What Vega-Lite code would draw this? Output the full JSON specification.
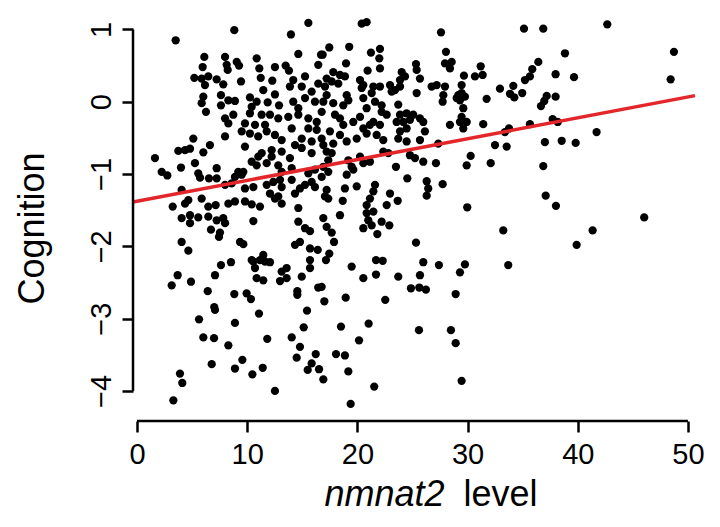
{
  "$schema": "https://vega.github.io/schema/vega-lite/v6.json",
  "width": 562,
  "height": 414,
  "autosize": "none",
  "padding": {"left": 133, "top": 7, "right": 25, "bottom": 106},
  "background": "white",
  "datasets": {
    "points": [
      {"nmnat2": 3.51, "cognition": 0.85}, {"nmnat2": 8.83, "cognition": 0.99}, {"nmnat2": 13.97, "cognition": 0.93}, {"nmnat2": 15.55, "cognition": 1.09},
      {"nmnat2": 6.11, "cognition": 0.62}, {"nmnat2": 7.99, "cognition": 0.62}, {"nmnat2": 10.86, "cognition": 0.60}, {"nmnat2": 14.64, "cognition": 0.66},
      {"nmnat2": 16.70, "cognition": 0.65}, {"nmnat2": 5.96, "cognition": 0.48}, {"nmnat2": 8.14, "cognition": 0.51}, {"nmnat2": 8.23, "cognition": 0.44},
      {"nmnat2": 9.05, "cognition": 0.55}, {"nmnat2": 9.26, "cognition": 0.50}, {"nmnat2": 11.10, "cognition": 0.46}, {"nmnat2": 12.52, "cognition": 0.48},
      {"nmnat2": 13.49, "cognition": 0.50}, {"nmnat2": 13.79, "cognition": 0.43}, {"nmnat2": 16.45, "cognition": 0.51}, {"nmnat2": 5.20, "cognition": 0.33},
      {"nmnat2": 5.87, "cognition": 0.32}, {"nmnat2": 6.47, "cognition": 0.35}, {"nmnat2": 7.23, "cognition": 0.31}, {"nmnat2": 7.83, "cognition": 0.24},
      {"nmnat2": 6.17, "cognition": 0.23}, {"nmnat2": 9.44, "cognition": 0.28}, {"nmnat2": 11.23, "cognition": 0.33}, {"nmnat2": 12.28, "cognition": 0.29},
      {"nmnat2": 14.18, "cognition": 0.30}, {"nmnat2": 15.25, "cognition": 0.35}, {"nmnat2": 13.88, "cognition": 0.21}, {"nmnat2": 14.95, "cognition": 0.21},
      {"nmnat2": 15.85, "cognition": 0.14}, {"nmnat2": 16.45, "cognition": 0.25}, {"nmnat2": 11.46, "cognition": 0.16}, {"nmnat2": 12.52, "cognition": 0.10},
      {"nmnat2": 6.02, "cognition": 0.07}, {"nmnat2": 5.87, "cognition": -0.02}, {"nmnat2": 7.62, "cognition": 0.09}, {"nmnat2": 8.29, "cognition": 0.02},
      {"nmnat2": 8.89, "cognition": 0.01}, {"nmnat2": 7.62, "cognition": -0.05}, {"nmnat2": 10.25, "cognition": 0.06}, {"nmnat2": 10.86, "cognition": 0.00},
      {"nmnat2": 10.41, "cognition": -0.07}, {"nmnat2": 11.86, "cognition": -0.01}, {"nmnat2": 12.89, "cognition": -0.05}, {"nmnat2": 14.18, "cognition": 0.00},
      {"nmnat2": 14.64, "cognition": -0.09}, {"nmnat2": 15.25, "cognition": 0.05}, {"nmnat2": 6.26, "cognition": -0.14}, {"nmnat2": 8.74, "cognition": -0.18},
      {"nmnat2": 7.99, "cognition": -0.23}, {"nmnat2": 8.29, "cognition": -0.30}, {"nmnat2": 10.25, "cognition": -0.16}, {"nmnat2": 11.31, "cognition": -0.18},
      {"nmnat2": 12.07, "cognition": -0.18}, {"nmnat2": 12.82, "cognition": -0.23}, {"nmnat2": 13.73, "cognition": -0.21}, {"nmnat2": 14.64, "cognition": -0.18},
      {"nmnat2": 15.55, "cognition": -0.23}, {"nmnat2": 9.80, "cognition": -0.30}, {"nmnat2": 10.71, "cognition": -0.32}, {"nmnat2": 11.62, "cognition": -0.32},
      {"nmnat2": 9.50, "cognition": -0.41}, {"nmnat2": 10.25, "cognition": -0.44}, {"nmnat2": 5.11, "cognition": -0.51}, {"nmnat2": 7.99, "cognition": -0.48},
      {"nmnat2": 12.52, "cognition": -0.46}, {"nmnat2": 13.13, "cognition": -0.53}, {"nmnat2": 14.95, "cognition": -0.51}, {"nmnat2": 16.31, "cognition": -0.39},
      {"nmnat2": 6.62, "cognition": -0.60}, {"nmnat2": 16.15, "cognition": 0.00}, {"nmnat2": 16.76, "cognition": -0.14}, {"nmnat2": 16.31, "cognition": -0.28},
      {"nmnat2": 15.55, "cognition": -0.37}, {"nmnat2": 14.04, "cognition": -0.37}, {"nmnat2": 14.34, "cognition": -0.60}, {"nmnat2": 15.85, "cognition": -0.55},
      {"nmnat2": 16.76, "cognition": -0.51}, {"nmnat2": 11.77, "cognition": -0.41}, {"nmnat2": 11.00, "cognition": -0.48},

      {"nmnat2": 20.39, "cognition": 1.08}, {"nmnat2": 20.84, "cognition": 1.10}, {"nmnat2": 27.59, "cognition": 0.96}, {"nmnat2": 17.45, "cognition": 0.75},
      {"nmnat2": 19.26, "cognition": 0.76}, {"nmnat2": 16.85, "cognition": 0.65}, {"nmnat2": 21.23, "cognition": 0.68}, {"nmnat2": 22.05, "cognition": 0.73},
      {"nmnat2": 21.99, "cognition": 0.60}, {"nmnat2": 28.04, "cognition": 0.69}, {"nmnat2": 18.97, "cognition": 0.53}, {"nmnat2": 20.93, "cognition": 0.43},
      {"nmnat2": 22.05, "cognition": 0.46}, {"nmnat2": 25.32, "cognition": 0.52}, {"nmnat2": 25.38, "cognition": 0.44}, {"nmnat2": 25.68, "cognition": 0.32},
      {"nmnat2": 27.95, "cognition": 0.53}, {"nmnat2": 28.40, "cognition": 0.46}, {"nmnat2": 28.56, "cognition": 0.55}, {"nmnat2": 31.19, "cognition": 0.49},
      {"nmnat2": 31.37, "cognition": 0.37}, {"nmnat2": 30.67, "cognition": 0.35}, {"nmnat2": 29.67, "cognition": 0.36}, {"nmnat2": 17.81, "cognition": 0.41},
      {"nmnat2": 18.42, "cognition": 0.37}, {"nmnat2": 18.87, "cognition": 0.35}, {"nmnat2": 17.21, "cognition": 0.32}, {"nmnat2": 17.67, "cognition": 0.28},
      {"nmnat2": 18.27, "cognition": 0.25}, {"nmnat2": 17.06, "cognition": 0.21}, {"nmnat2": 20.24, "cognition": 0.30}, {"nmnat2": 20.54, "cognition": 0.23},
      {"nmnat2": 20.39, "cognition": 0.19}, {"nmnat2": 24.02, "cognition": 0.41}, {"nmnat2": 24.32, "cognition": 0.35}, {"nmnat2": 23.87, "cognition": 0.30},
      {"nmnat2": 21.45, "cognition": 0.21}, {"nmnat2": 22.05, "cognition": 0.21}, {"nmnat2": 21.30, "cognition": 0.12}, {"nmnat2": 22.96, "cognition": 0.23},
      {"nmnat2": 23.41, "cognition": 0.16}, {"nmnat2": 23.87, "cognition": 0.21}, {"nmnat2": 23.11, "cognition": 0.14}, {"nmnat2": 25.38, "cognition": 0.12},
      {"nmnat2": 26.74, "cognition": 0.21}, {"nmnat2": 27.20, "cognition": 0.23}, {"nmnat2": 27.95, "cognition": 0.21}, {"nmnat2": 27.80, "cognition": 0.09},
      {"nmnat2": 27.74, "cognition": 0.00}, {"nmnat2": 29.46, "cognition": 0.23}, {"nmnat2": 29.16, "cognition": 0.09}, {"nmnat2": 29.46, "cognition": 0.12},
      {"nmnat2": 29.76, "cognition": 0.07}, {"nmnat2": 29.31, "cognition": 0.02}, {"nmnat2": 29.01, "cognition": 0.05}, {"nmnat2": 31.73, "cognition": 0.04},
      {"nmnat2": 32.94, "cognition": 0.18}, {"nmnat2": 19.03, "cognition": 0.09}, {"nmnat2": 19.18, "cognition": 0.02}, {"nmnat2": 17.21, "cognition": 0.09},
      {"nmnat2": 16.91, "cognition": 0.00}, {"nmnat2": 17.81, "cognition": -0.02}, {"nmnat2": 18.72, "cognition": -0.05}, {"nmnat2": 20.54, "cognition": 0.05},
      {"nmnat2": 21.60, "cognition": 0.00}, {"nmnat2": 22.20, "cognition": -0.05}, {"nmnat2": 20.84, "cognition": -0.09}, {"nmnat2": 23.71, "cognition": -0.04},
      {"nmnat2": 24.47, "cognition": -0.16}, {"nmnat2": 25.07, "cognition": -0.18}, {"nmnat2": 25.68, "cognition": -0.23}, {"nmnat2": 23.87, "cognition": -0.18},
      {"nmnat2": 29.61, "cognition": -0.09}, {"nmnat2": 29.46, "cognition": -0.21}, {"nmnat2": 29.31, "cognition": -0.28}, {"nmnat2": 29.61, "cognition": -0.37},
      {"nmnat2": 29.92, "cognition": -0.28}, {"nmnat2": 28.40, "cognition": -0.32}, {"nmnat2": 31.42, "cognition": -0.31}, {"nmnat2": 32.49, "cognition": -0.60},
      {"nmnat2": 17.97, "cognition": -0.18}, {"nmnat2": 18.42, "cognition": -0.23}, {"nmnat2": 18.72, "cognition": -0.32}, {"nmnat2": 19.63, "cognition": -0.28},
      {"nmnat2": 20.24, "cognition": -0.21}, {"nmnat2": 20.54, "cognition": -0.37}, {"nmnat2": 21.14, "cognition": -0.32}, {"nmnat2": 21.45, "cognition": -0.28},
      {"nmnat2": 22.20, "cognition": -0.14}, {"nmnat2": 22.66, "cognition": -0.18}, {"nmnat2": 22.05, "cognition": -0.32}, {"nmnat2": 23.56, "cognition": -0.28},
      {"nmnat2": 24.17, "cognition": -0.28}, {"nmnat2": 24.77, "cognition": -0.25}, {"nmnat2": 24.47, "cognition": -0.37}, {"nmnat2": 23.87, "cognition": -0.41},
      {"nmnat2": 25.98, "cognition": -0.28}, {"nmnat2": 26.13, "cognition": -0.41}, {"nmnat2": 17.51, "cognition": -0.41}, {"nmnat2": 18.42, "cognition": -0.46},
      {"nmnat2": 19.03, "cognition": -0.55}, {"nmnat2": 19.94, "cognition": -0.51}, {"nmnat2": 20.84, "cognition": -0.44}, {"nmnat2": 21.75, "cognition": -0.46},
      {"nmnat2": 22.35, "cognition": -0.53}, {"nmnat2": 23.71, "cognition": -0.51}, {"nmnat2": 24.47, "cognition": -0.55}, {"nmnat2": 25.68, "cognition": -0.53},
      {"nmnat2": 16.91, "cognition": -0.60}, {"nmnat2": 17.81, "cognition": -0.58}, {"nmnat2": 27.34, "cognition": -0.58},

      {"nmnat2": 35.12, "cognition": 1.01}, {"nmnat2": 36.87, "cognition": 1.01}, {"nmnat2": 42.68, "cognition": 1.07}, {"nmnat2": 48.73, "cognition": 0.69},
      {"nmnat2": 48.43, "cognition": 0.31}, {"nmnat2": 38.84, "cognition": 0.67}, {"nmnat2": 36.42, "cognition": 0.55}, {"nmnat2": 35.87, "cognition": 0.45},
      {"nmnat2": 35.66, "cognition": 0.35}, {"nmnat2": 35.21, "cognition": 0.30}, {"nmnat2": 37.99, "cognition": 0.38}, {"nmnat2": 39.66, "cognition": 0.34},
      {"nmnat2": 34.15, "cognition": 0.22}, {"nmnat2": 33.85, "cognition": 0.11}, {"nmnat2": 34.24, "cognition": 0.06}, {"nmnat2": 34.96, "cognition": 0.12},
      {"nmnat2": 37.18, "cognition": 0.08}, {"nmnat2": 36.96, "cognition": 0.01}, {"nmnat2": 36.66, "cognition": -0.06}, {"nmnat2": 37.99, "cognition": 0.07},
      {"nmnat2": 33.76, "cognition": -0.37}, {"nmnat2": 33.39, "cognition": -0.42}, {"nmnat2": 35.66, "cognition": -0.31}, {"nmnat2": 37.72, "cognition": -0.24},
      {"nmnat2": 38.18, "cognition": -0.28}, {"nmnat2": 41.71, "cognition": -0.42}, {"nmnat2": 37.02, "cognition": -0.56}, {"nmnat2": 38.54, "cognition": -0.54},
      {"nmnat2": 39.81, "cognition": -0.57}, {"nmnat2": 33.55, "cognition": -0.62},

      {"nmnat2": 1.63, "cognition": -0.78}, {"nmnat2": 2.24, "cognition": -0.97}, {"nmnat2": 2.75, "cognition": -1.02}, {"nmnat2": 3.75, "cognition": -0.68},
      {"nmnat2": 4.36, "cognition": -0.67}, {"nmnat2": 4.81, "cognition": -0.65}, {"nmnat2": 3.99, "cognition": -0.91}, {"nmnat2": 5.26, "cognition": -0.85},
      {"nmnat2": 6.02, "cognition": -0.70}, {"nmnat2": 5.56, "cognition": -0.99}, {"nmnat2": 5.72, "cognition": -1.05}, {"nmnat2": 6.53, "cognition": -1.06},
      {"nmnat2": 7.23, "cognition": -1.06}, {"nmnat2": 7.23, "cognition": -0.92}, {"nmnat2": 4.05, "cognition": -1.22}, {"nmnat2": 9.19, "cognition": -0.97},
      {"nmnat2": 9.65, "cognition": -0.97}, {"nmnat2": 8.89, "cognition": -1.04}, {"nmnat2": 9.50, "cognition": -1.01}, {"nmnat2": 7.99, "cognition": -1.15},
      {"nmnat2": 8.59, "cognition": -1.13}, {"nmnat2": 9.80, "cognition": -1.20}, {"nmnat2": 10.56, "cognition": -1.18}, {"nmnat2": 10.41, "cognition": -0.83},
      {"nmnat2": 11.01, "cognition": -0.76}, {"nmnat2": 11.32, "cognition": -0.71}, {"nmnat2": 10.86, "cognition": -0.88}, {"nmnat2": 11.77, "cognition": -0.85},
      {"nmnat2": 11.77, "cognition": -1.15}, {"nmnat2": 12.37, "cognition": -1.11}, {"nmnat2": 12.98, "cognition": -1.08}, {"nmnat2": 13.13, "cognition": -1.18},
      {"nmnat2": 12.07, "cognition": -1.27}, {"nmnat2": 12.52, "cognition": -1.34}, {"nmnat2": 13.13, "cognition": -1.41}, {"nmnat2": 12.82, "cognition": -1.31},
      {"nmnat2": 12.22, "cognition": -0.76}, {"nmnat2": 12.82, "cognition": -0.88}, {"nmnat2": 13.13, "cognition": -0.97}, {"nmnat2": 14.04, "cognition": -0.92},
      {"nmnat2": 13.88, "cognition": -0.78}, {"nmnat2": 14.04, "cognition": -1.08}, {"nmnat2": 14.34, "cognition": -1.27}, {"nmnat2": 14.79, "cognition": -1.20},
      {"nmnat2": 15.25, "cognition": -1.15}, {"nmnat2": 15.85, "cognition": -1.11}, {"nmnat2": 16.15, "cognition": -1.18}, {"nmnat2": 15.55, "cognition": -0.99},
      {"nmnat2": 16.15, "cognition": -0.94}, {"nmnat2": 16.76, "cognition": -1.04}, {"nmnat2": 14.64, "cognition": -1.47}, {"nmnat2": 3.24, "cognition": -1.45},
      {"nmnat2": 4.36, "cognition": -1.41}, {"nmnat2": 4.66, "cognition": -1.36}, {"nmnat2": 5.87, "cognition": -1.34}, {"nmnat2": 6.47, "cognition": -1.45},
      {"nmnat2": 7.14, "cognition": -1.43}, {"nmnat2": 8.29, "cognition": -1.41}, {"nmnat2": 8.89, "cognition": -1.38}, {"nmnat2": 9.80, "cognition": -1.38},
      {"nmnat2": 10.41, "cognition": -1.42}, {"nmnat2": 11.16, "cognition": -1.45}, {"nmnat2": 4.05, "cognition": -1.61}, {"nmnat2": 4.81, "cognition": -1.57},
      {"nmnat2": 5.56, "cognition": -1.60}, {"nmnat2": 4.81, "cognition": -1.68}, {"nmnat2": 6.47, "cognition": -1.59}, {"nmnat2": 7.23, "cognition": -1.64},
      {"nmnat2": 7.83, "cognition": -1.61}, {"nmnat2": 7.99, "cognition": -1.68}, {"nmnat2": 6.71, "cognition": -1.77}, {"nmnat2": 7.53, "cognition": -1.81},
      {"nmnat2": 7.44, "cognition": -1.87}, {"nmnat2": 10.56, "cognition": -1.65}, {"nmnat2": 4.05, "cognition": -1.94}, {"nmnat2": 4.66, "cognition": -2.06},
      {"nmnat2": 9.35, "cognition": -1.94}, {"nmnat2": 9.65, "cognition": -1.97}, {"nmnat2": 14.64, "cognition": -1.66}, {"nmnat2": 15.25, "cognition": -1.75},
      {"nmnat2": 15.70, "cognition": -1.79}, {"nmnat2": 14.34, "cognition": -1.98}, {"nmnat2": 14.79, "cognition": -1.94}, {"nmnat2": 15.70, "cognition": -2.03},
      {"nmnat2": 16.40, "cognition": -2.05}, {"nmnat2": 11.46, "cognition": -2.12}, {"nmnat2": 11.16, "cognition": -2.19}, {"nmnat2": 10.56, "cognition": -2.21},
      {"nmnat2": 11.62, "cognition": -2.21}, {"nmnat2": 12.07, "cognition": -2.22}, {"nmnat2": 10.71, "cognition": -2.30}, {"nmnat2": 10.41, "cognition": -2.19},
      {"nmnat2": 7.62, "cognition": -2.26}, {"nmnat2": 8.53, "cognition": -2.22}, {"nmnat2": 3.69, "cognition": -2.40}, {"nmnat2": 7.08, "cognition": -2.40},
      {"nmnat2": 13.13, "cognition": -2.35}, {"nmnat2": 13.58, "cognition": -2.30}, {"nmnat2": 14.95, "cognition": -2.42}, {"nmnat2": 15.70, "cognition": -2.19},
      {"nmnat2": 15.70, "cognition": -2.30}, {"nmnat2": 9.80, "cognition": -0.62}, {"nmnat2": 12.22, "cognition": -0.67}, {"nmnat2": 13.13, "cognition": -0.69},
      {"nmnat2": 14.95, "cognition": -0.64}, {"nmnat2": 15.85, "cognition": -0.71},

      {"nmnat2": 17.21, "cognition": -0.69}, {"nmnat2": 17.67, "cognition": -0.71}, {"nmnat2": 17.36, "cognition": -0.81}, {"nmnat2": 16.91, "cognition": -0.90},
      {"nmnat2": 17.36, "cognition": -0.97}, {"nmnat2": 19.18, "cognition": -0.81}, {"nmnat2": 19.48, "cognition": -0.90}, {"nmnat2": 19.63, "cognition": -0.94},
      {"nmnat2": 19.03, "cognition": -1.01}, {"nmnat2": 20.24, "cognition": -0.76}, {"nmnat2": 20.54, "cognition": -0.85}, {"nmnat2": 21.14, "cognition": -0.83},
      {"nmnat2": 22.35, "cognition": -0.69}, {"nmnat2": 22.81, "cognition": -0.71}, {"nmnat2": 24.77, "cognition": -0.74}, {"nmnat2": 25.23, "cognition": -0.78},
      {"nmnat2": 25.98, "cognition": -0.83}, {"nmnat2": 27.13, "cognition": -0.85}, {"nmnat2": 23.50, "cognition": -0.90}, {"nmnat2": 24.53, "cognition": -1.06},
      {"nmnat2": 26.29, "cognition": -1.10}, {"nmnat2": 26.43, "cognition": -1.20}, {"nmnat2": 26.29, "cognition": -1.30}, {"nmnat2": 27.74, "cognition": -1.14},
      {"nmnat2": 30.28, "cognition": -0.75}, {"nmnat2": 29.92, "cognition": -0.88}, {"nmnat2": 32.10, "cognition": -0.85}, {"nmnat2": 29.97, "cognition": -1.46},
      {"nmnat2": 33.24, "cognition": -1.78}, {"nmnat2": 18.87, "cognition": -1.20}, {"nmnat2": 19.94, "cognition": -1.17}, {"nmnat2": 17.21, "cognition": -1.22},
      {"nmnat2": 17.06, "cognition": -1.31}, {"nmnat2": 17.36, "cognition": -1.34}, {"nmnat2": 18.67, "cognition": -1.37}, {"nmnat2": 21.60, "cognition": -1.15},
      {"nmnat2": 21.45, "cognition": -1.24}, {"nmnat2": 21.14, "cognition": -1.34}, {"nmnat2": 20.84, "cognition": -1.43}, {"nmnat2": 22.96, "cognition": -1.27},
      {"nmnat2": 22.66, "cognition": -1.43}, {"nmnat2": 23.66, "cognition": -1.37}, {"nmnat2": 20.84, "cognition": -1.54}, {"nmnat2": 21.45, "cognition": -1.52},
      {"nmnat2": 20.99, "cognition": -1.64}, {"nmnat2": 21.30, "cognition": -1.71}, {"nmnat2": 20.54, "cognition": -1.75}, {"nmnat2": 22.20, "cognition": -1.66},
      {"nmnat2": 22.90, "cognition": -1.71}, {"nmnat2": 21.81, "cognition": -1.83}, {"nmnat2": 18.42, "cognition": -1.57}, {"nmnat2": 16.91, "cognition": -1.61},
      {"nmnat2": 17.21, "cognition": -1.73}, {"nmnat2": 17.67, "cognition": -1.81}, {"nmnat2": 17.88, "cognition": -1.94}, {"nmnat2": 17.45, "cognition": -2.10},
      {"nmnat2": 17.15, "cognition": -2.19}, {"nmnat2": 25.32, "cognition": -1.95}, {"nmnat2": 21.69, "cognition": -2.19}, {"nmnat2": 22.30, "cognition": -2.20},
      {"nmnat2": 25.98, "cognition": -2.22}, {"nmnat2": 27.40, "cognition": -2.26}, {"nmnat2": 29.76, "cognition": -2.25}, {"nmnat2": 29.31, "cognition": -2.36},
      {"nmnat2": 19.48, "cognition": -2.28}, {"nmnat2": 21.69, "cognition": -2.39}, {"nmnat2": 20.54, "cognition": -2.44}, {"nmnat2": 23.71, "cognition": -2.42},
      {"nmnat2": 25.68, "cognition": -2.40}, {"nmnat2": 33.69, "cognition": -2.26},

      {"nmnat2": 36.87, "cognition": -0.89}, {"nmnat2": 37.09, "cognition": -1.30}, {"nmnat2": 38.02, "cognition": -1.44}, {"nmnat2": 46.03, "cognition": -1.60},
      {"nmnat2": 41.35, "cognition": -1.78}, {"nmnat2": 39.90, "cognition": -1.98},

      {"nmnat2": 3.15, "cognition": -2.54}, {"nmnat2": 4.90, "cognition": -2.49}, {"nmnat2": 6.42, "cognition": -2.62}, {"nmnat2": 8.83, "cognition": -2.66},
      {"nmnat2": 9.95, "cognition": -2.65}, {"nmnat2": 10.34, "cognition": -2.73}, {"nmnat2": 7.01, "cognition": -2.84}, {"nmnat2": 7.08, "cognition": -2.88},
      {"nmnat2": 5.63, "cognition": -3.01}, {"nmnat2": 8.89, "cognition": -3.06}, {"nmnat2": 11.07, "cognition": -2.93}, {"nmnat2": 10.86, "cognition": -2.44},
      {"nmnat2": 11.46, "cognition": -2.47}, {"nmnat2": 12.98, "cognition": -2.48}, {"nmnat2": 13.58, "cognition": -2.44}, {"nmnat2": 14.55, "cognition": -2.62},
      {"nmnat2": 14.55, "cognition": -2.67}, {"nmnat2": 16.45, "cognition": -2.57}, {"nmnat2": 16.76, "cognition": -2.56}, {"nmnat2": 17.00, "cognition": -2.76},
      {"nmnat2": 15.43, "cognition": -2.89}, {"nmnat2": 15.13, "cognition": -3.12}, {"nmnat2": 6.02, "cognition": -3.26}, {"nmnat2": 6.99, "cognition": -3.27},
      {"nmnat2": 8.29, "cognition": -3.37}, {"nmnat2": 11.82, "cognition": -3.28}, {"nmnat2": 14.04, "cognition": -3.26}, {"nmnat2": 14.79, "cognition": -3.39},
      {"nmnat2": 14.49, "cognition": -3.54}, {"nmnat2": 16.22, "cognition": -3.49}, {"nmnat2": 15.85, "cognition": -3.62}, {"nmnat2": 15.49, "cognition": -3.71},
      {"nmnat2": 16.52, "cognition": -3.70}, {"nmnat2": 16.91, "cognition": -3.84}, {"nmnat2": 6.78, "cognition": -3.63}, {"nmnat2": 8.89, "cognition": -3.69},
      {"nmnat2": 9.56, "cognition": -3.57}, {"nmnat2": 10.47, "cognition": -3.77}, {"nmnat2": 11.41, "cognition": -3.68}, {"nmnat2": 3.90, "cognition": -3.76},
      {"nmnat2": 4.11, "cognition": -3.89}, {"nmnat2": 3.30, "cognition": -4.13}, {"nmnat2": 12.52, "cognition": -4.00},

      {"nmnat2": 24.86, "cognition": -2.58}, {"nmnat2": 25.62, "cognition": -2.57}, {"nmnat2": 26.22, "cognition": -2.60}, {"nmnat2": 28.92, "cognition": -2.66},
      {"nmnat2": 18.94, "cognition": -2.71}, {"nmnat2": 22.53, "cognition": -2.74}, {"nmnat2": 18.51, "cognition": -3.11}, {"nmnat2": 21.02, "cognition": -3.07},
      {"nmnat2": 20.15, "cognition": -3.30}, {"nmnat2": 25.59, "cognition": -3.16}, {"nmnat2": 28.49, "cognition": -3.16}, {"nmnat2": 28.92, "cognition": -3.34},
      {"nmnat2": 18.06, "cognition": -3.49}, {"nmnat2": 18.87, "cognition": -3.51}, {"nmnat2": 19.18, "cognition": -3.73}, {"nmnat2": 21.53, "cognition": -3.94},
      {"nmnat2": 19.39, "cognition": -4.18}, {"nmnat2": 29.46, "cognition": -3.86}
    ],
    "fit": [
      {"nmnat2": -0.363, "cognition": -1.388},
      {"nmnat2": 50.64, "cognition": 0.084}
    ]
  },
  "resolve": {"axis": {"x": "independent"}},
  "layer": [
    {
      "data": {"name": "points"},
      "mark": {"type": "circle", "size": 68, "color": "black", "opacity": 1},
      "encoding": {
        "x": {
          "field": "nmnat2",
          "type": "quantitative",
          "scale": {"domain": [-0.363, 50.64], "nice": false, "zero": false},
          "axis": {
            "orient": "bottom",
            "values": [0, 10, 20, 30, 40, 50],
            "format": "d",
            "labelBaseline": "alphabetic",
            "labelPadding": 31,
            "labelFlush": false,
            "title": "nmnat2",
            "titleFontStyle": "italic",
            "titleAlign": "left",
            "titleBaseline": "alphabetic",
            "titleX": 191,
            "titleY": 84
          }
        },
        "y": {
          "field": "cognition",
          "type": "quantitative",
          "scale": {"domain": [-4.416, 1.31], "nice": false, "zero": false},
          "axis": {
            "values": [-4, -3, -2, -1, 0, 1],
            "format": "d",
            "labelAngle": 270,
            "labelAlign": "center",
            "labelBaseline": "alphabetic",
            "labelPadding": 12,
            "labelFlush": false,
            "title": "Cognition",
            "titleAngle": 270,
            "titleAlign": "center",
            "titleBaseline": "alphabetic",
            "titleX": -90,
            "titleY": 221
          }
        }
      }
    },
    {
      "data": {"name": "fit"},
      "mark": {"type": "line", "color": "#e3262a", "strokeWidth": 3.5},
      "encoding": {
        "x": {
          "field": "nmnat2",
          "type": "quantitative",
          "axis": {
            "orient": "bottom",
            "labels": false,
            "ticks": false,
            "title": "level",
            "titleFontStyle": "normal",
            "titleAlign": "right",
            "titleBaseline": "alphabetic",
            "titleX": 404,
            "titleY": 84
          }
        },
        "y": {"field": "cognition", "type": "quantitative"}
      }
    },
    {
      "data": {"values": [{}]},
      "mark": {"type": "rule", "color": "black", "strokeWidth": 2.5},
      "encoding": {
        "x": {"datum": 0, "type": "quantitative", "axis": null},
        "x2": {"datum": 50},
        "y": {"datum": -4.416, "type": "quantitative"}
      }
    },
    {
      "data": {"values": [{}]},
      "mark": {"type": "rule", "color": "black", "strokeWidth": 2.5},
      "encoding": {
        "x": {"datum": -0.363, "type": "quantitative", "axis": null},
        "y": {"datum": -4, "type": "quantitative"},
        "y2": {"datum": 1}
      }
    }
  ],
  "config": {
    "view": {"stroke": null},
    "font": "Liberation Sans",
    "axis": {
      "domain": false,
      "grid": false,
      "tickColor": "black",
      "tickWidth": 2.5,
      "tickSize": 11,
      "labelFont": "Liberation Sans",
      "labelFontSize": 29,
      "labelColor": "black",
      "titleFont": "Liberation Sans",
      "titleFontSize": 36,
      "titleFontWeight": "normal",
      "titleColor": "black"
    }
  }
}
